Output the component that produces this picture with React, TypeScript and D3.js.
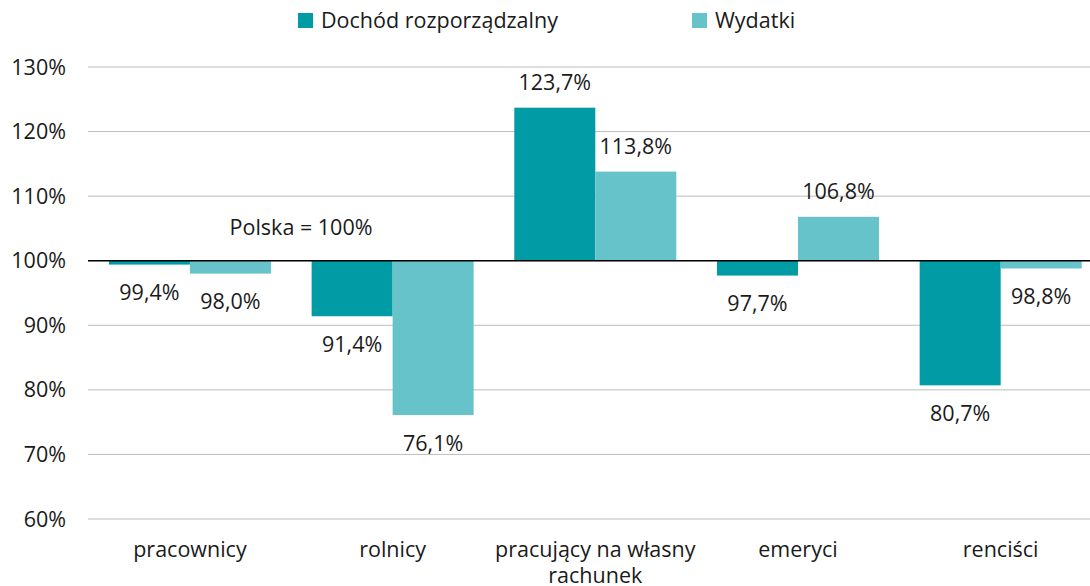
import React from "react";
import * as d3 from "d3";

const categories = ["pracownicy", "rolnicy", "pracujący na własny rachunek", "emeryci", "renciści"];
const categoryLines = [["pracownicy"], ["rolnicy"], ["pracujący na własny", "rachunek"], ["emeryci"], ["renciści"]];
const seriesNames = ["Dochód rozporządzalny", "Wydatki"];
const dochod = [99.4, 91.4, 123.7, 97.7, 80.7];
const wydatki = [98.0, 76.1, 113.8, 106.8, 98.8];
const yTicks = [60, 70, 80, 90, 100, 110, 120, 130];
const colors = ["#009ba5", "#66c3ca"];

const W = 1090;
const H = 586;
const FONT = "'Open Sans', sans-serif";
const FS = 21.5;

export default function App() {
  const x = d3.scaleBand<string>().domain(categories).range([88.6, 1102]).padding(0);
  const y = d3.scaleLinear().domain([60, 130]).range([519, 67]);
  const fmt = (v: number) => v.toFixed(1).replace(".", ",") + "%";
  const series = [dochod, wydatki];
  const barW = 81;

  return (
    <svg width={W} height={H} style={{ position: "absolute", left: 0, top: 0, fontFamily: FONT }}>
      <rect width={W} height={H} fill="#fff" />
      {yTicks.map((t) => (
        <g key={t}>
          <line x1={88} x2={1090} y1={y(t)} y2={y(t)} stroke="#bdbdbd" strokeWidth={1} />
          <text x={66} y={y(t)} dy="0.35em" textAnchor="end" fontSize={FS} fill="#1a1a1a">
            {t}%
          </text>
        </g>
      ))}
      {categories.map((c, i) => {
        const cx = (x(c) as number) + x.bandwidth() / 2;
        return (
          <g key={c}>
            {series.map((s, si) => {
              const v = s[i];
              const bx = cx - barW + si * barW;
              const top = Math.min(y(v), y(100));
              const h = Math.abs(y(v) - y(100));
              const ly = v >= 100 ? y(v) - 25 : y(v) + 28;
              return (
                <g key={si}>
                  <rect x={bx} y={top} width={barW} height={h} fill={colors[si]} />
                  <text x={bx + barW / 2} y={ly} dy="0.35em" textAnchor="middle" fontSize={FS} fill="#1a1a1a">
                    {fmt(v)}
                  </text>
                </g>
              );
            })}
            <text x={cx} y={549} dy="0.35em" textAnchor="middle" fontSize={FS} fill="#1a1a1a">
              {categoryLines[i].map((ln, li) => (
                <tspan key={li} x={cx} dy={li === 0 ? "0.35em" : 26}>
                  {ln}
                </tspan>
              ))}
            </text>
          </g>
        );
      })}
      <line x1={88} x2={1090} y1={y(100)} y2={y(100)} stroke="#000" strokeWidth={1.6} />
      <text x={301} y={227} dy="0.35em" textAnchor="middle" fontSize={FS} fill="#1a1a1a">
        Polska = 100%
      </text>
      {seriesNames.map((n, i) => {
        const lx = i === 0 ? 298 : 692;
        return (
          <g key={n}>
            <rect x={lx} y={13} width={15} height={15} fill={colors[i]} />
            <text x={lx + 23} y={28} fontSize={FS} fill="#1a1a1a">
              {n}
            </text>
          </g>
        );
      })}
    </svg>
  );
}
